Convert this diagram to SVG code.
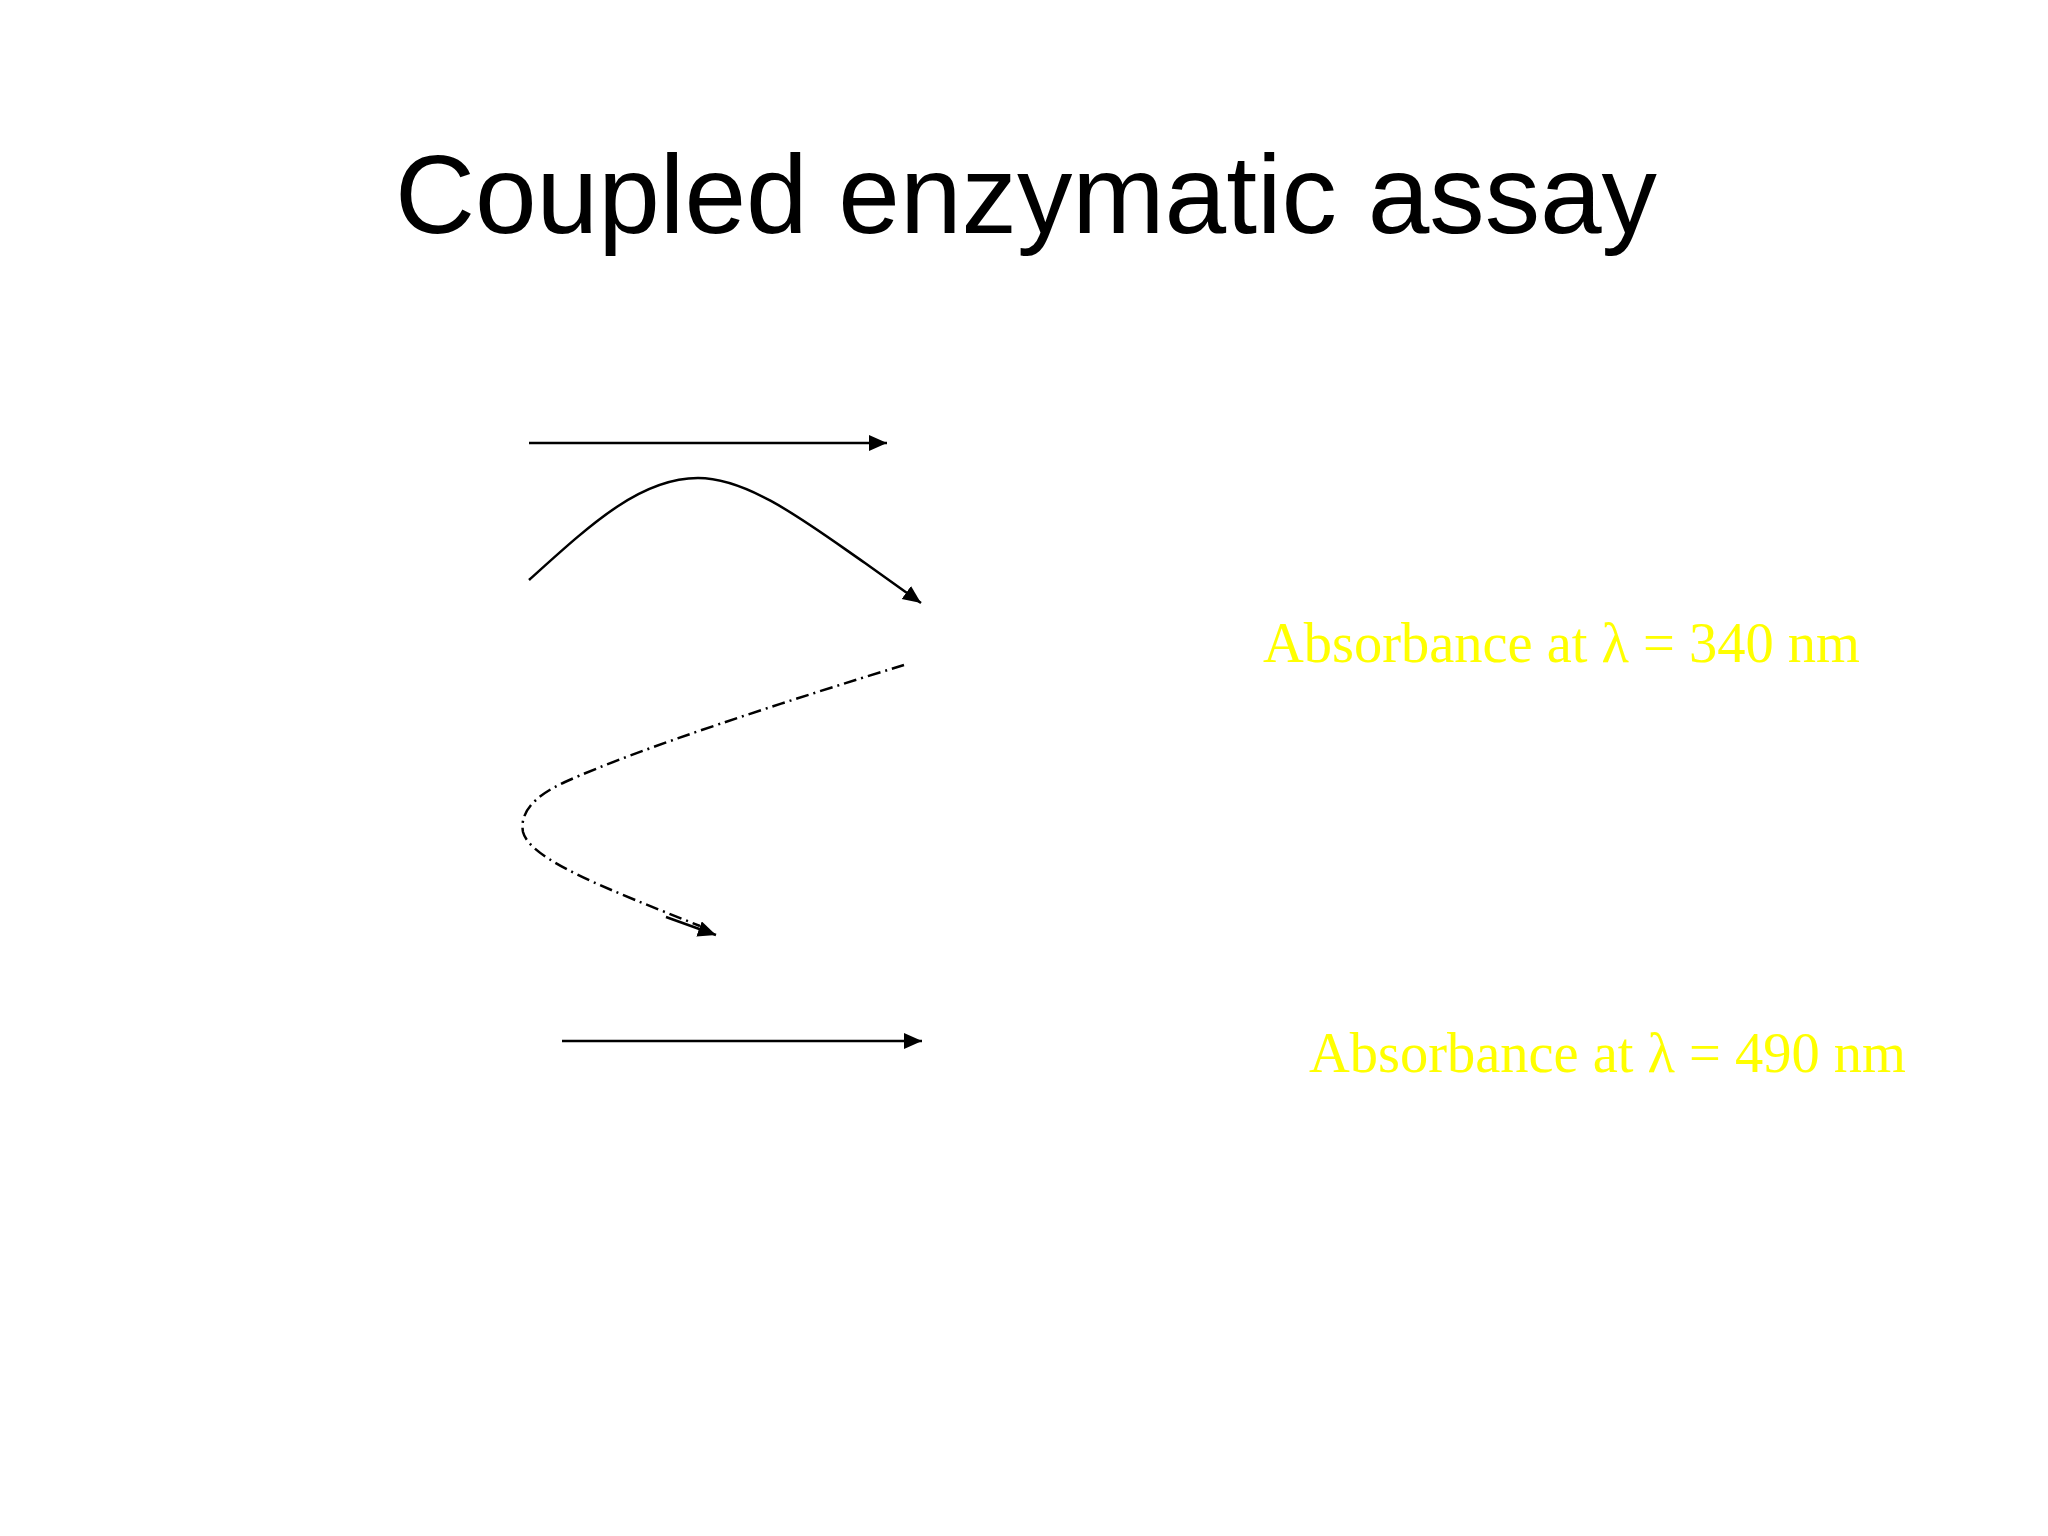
<svg xmlns="http://www.w3.org/2000/svg" width="2048" height="1536" viewBox="0 0 2048 1536">
<style>
.title{font-family:"Liberation Sans","Open Sans",sans-serif;font-size:112px;fill:#000}
.lbl{font-family:"Liberation Serif","DejaVu Serif",serif;font-size:56px;fill:#FFFF00}
.conn{fill:none;stroke:#000;stroke-width:2.5}
.dd{fill:none;stroke:#000;stroke-width:2.5;stroke-dasharray:13 5 2 5}
</style>
<defs>
<marker id="ah" markerUnits="userSpaceOnUse" markerWidth="20" markerHeight="18" refX="18" refY="8" orient="auto">
<path d="M0,0 L18,8 L0,16 z" fill="#000"/>
</marker>
</defs>
<rect width="2048" height="1536" fill="#fff"/>
<g id="title">
<text class="title" x="395" y="233" textLength="1262" lengthAdjust="spacingAndGlyphs">Coupled enzymatic assay</text>
</g>
<g id="label-340">
<text class="lbl" x="1263" y="662" textLength="597" lengthAdjust="spacingAndGlyphs">Absorbance at λ = 340 nm</text>
</g>
<g id="label-490">
<text class="lbl" x="1309" y="1072" textLength="597" lengthAdjust="spacingAndGlyphs">Absorbance at λ = 490 nm</text>
</g>
<g id="connectors">
<line class="conn" x1="529" y1="443" x2="887" y2="443" marker-end="url(#ah)"/>
<path class="conn" d="M529,580 C590,525 640,478 698,478 C750,478 810,525 865,563 L921,603" marker-end="url(#ah)"/>
<path class="dd" d="M904,665 C790,700 640,748 565,782 C530,798 520,815 523,832 C530,860 610,890 700,926"/>
<line class="conn" x1="666" y1="917" x2="716" y2="935" marker-end="url(#ah)"/>
<line class="conn" x1="562" y1="1041" x2="922" y2="1041" marker-end="url(#ah)"/>
</g>
</svg>
